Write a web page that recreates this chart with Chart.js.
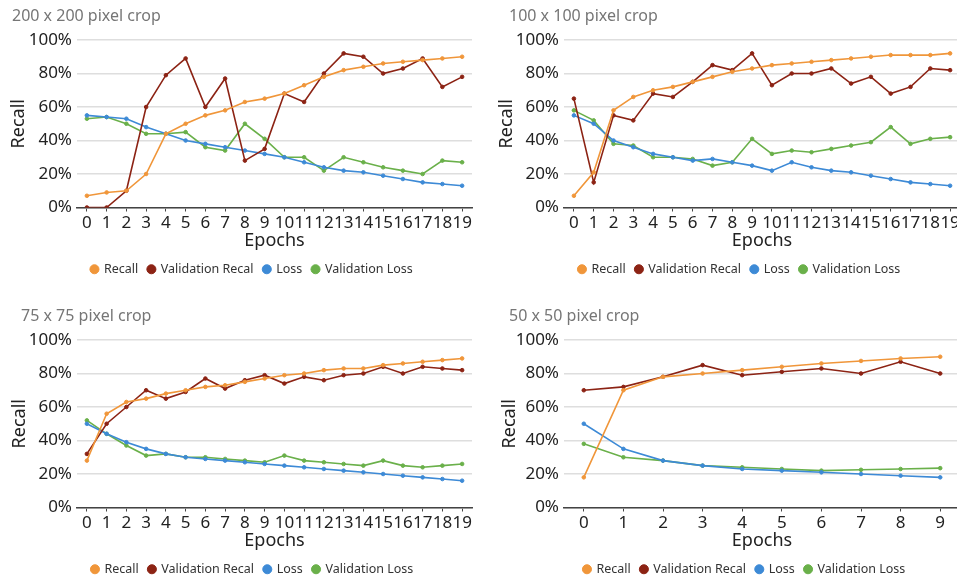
<!DOCTYPE html>
<html>
<head>
<meta charset="utf-8">
<script src="https://cdn.jsdelivr.net/npm/chart.js@4"></script>
<style>
  html, body { margin:0; padding:0; background:#fff; }
  #wrap { position:relative; width:957px; height:580px; overflow:hidden; background:#fff; }
  canvas { position:absolute; }
</style>
</head>
<body>
<div id="wrap">
  <canvas id="c1" width="478" height="300" style="left:0;top:0"></canvas>
  <canvas id="c2" width="490" height="300" style="left:478px;top:0"></canvas>
  <canvas id="c3" width="478" height="300" style="left:0;top:300px"></canvas>
  <canvas id="c4" width="490" height="300" style="left:478px;top:300px"></canvas>
</div>
<script>
// ---- Data ----
const epochs20 = ["0","1","2","3","4","5","6","7","8","9","10","11","12","13","14","15","16","17","18","19"];
const epochs10 = ["0","1","2","3","4","5","6","7","8","9"];
const seriesNames = ["Recall", "Validation Recal", "Loss", "Validation Loss"];
const yTicks = [0, 20, 40, 60, 80, 100];

const titles = ["200 x 200 pixel crop", "100 x 100 pixel crop", "75 x 75 pixel crop", "50 x 50 pixel crop"];

// 200 x 200
const recall200    = [7, 9, 10, 20, 44, 50, 55, 58, 63, 65, 68, 73, 78, 82, 84, 86, 87, 88, 89, 90];
const valRecall200 = [0, 0, 10, 60, 79, 89, 60, 77, 28, 35, 68, 63, 80, 92, 90, 80, 83, 89, 72, 78];
const loss200      = [55, 54, 53, 48, 44, 40, 38, 36, 34, 32, 30, 27, 24, 22, 21, 19, 17, 15, 14, 13];
const valLoss200   = [53, 54, 50, 44, 44, 45, 36, 34, 50, 41, 30, 30, 22, 30, 27, 24, 22, 20, 28, 27];

// 100 x 100
const recall100    = [7, 21, 58, 66, 70, 72, 75, 78, 81, 83, 85, 86, 87, 88, 89, 90, 91, 91, 91, 92];
const valRecall100 = [65, 15, 55, 52, 68, 66, 75, 85, 82, 92, 73, 80, 80, 83, 74, 78, 68, 72, 83, 82];
const loss100      = [55, 50, 40, 36, 32, 30, 28, 29, 27, 25, 22, 27, 24, 22, 21, 19, 17, 15, 14, 13];
const valLoss100   = [58, 52, 38, 37, 30, 30, 29, 25, 27, 41, 32, 34, 33, 35, 37, 39, 48, 38, 41, 42];

// 75 x 75
const recall75     = [28, 56, 63, 65, 68, 70, 72, 73, 75, 77, 79, 80, 82, 83, 83, 85, 86, 87, 88, 89];
const valRecall75  = [32, 50, 60, 70, 65, 69, 77, 71, 76, 79, 74, 78, 76, 79, 80, 84, 80, 84, 83, 82];
const loss75       = [50, 44, 39, 35, 32, 30, 29, 28, 27, 26, 25, 24, 23, 22, 21, 20, 19, 18, 17, 16];
const valLoss75    = [52, 44, 37, 31, 32, 30, 30, 29, 28, 27, 31, 28, 27, 26, 25, 28, 25, 24, 25, 26];

// 50 x 50
const recall50     = [18, 70, 78, 80, 82, 84, 86, 87.5, 89, 90];
const valRecall50  = [70, 72, 78, 85, 79, 81, 83, 80, 87, 80];
const loss50       = [50, 35, 28, 25, 23, 22, 21, 20, 19, 18];
const valLoss50    = [38, 30, 28, 25, 24, 23, 22, 22.5, 23, 23.5];

// ---- Styling ----
const colors = ["#F0963A", "#8C2314", "#3D8AD6", "#6AB04A"];
const fam = "'Noto Sans', 'Open Sans', sans-serif";
const tickFont = { family: fam, size: 17 };

// panel caption drawn on the canvas
const panelTitle = {
  id: 'panelTitle',
  afterDraw(chart, args, opts) {
    const ctx = chart.ctx;
    ctx.save();
    ctx.font = "16px " + fam;
    ctx.fillStyle = '#767676';
    ctx.textAlign = 'left';
    ctx.textBaseline = 'middle';
    ctx.fillText(opts.text, opts.x, 16);
    ctx.restore();
  }
};

function makeChart(id, title, labels, data, L) {
  const datasets = data.map((d, i) => ({
    label: seriesNames[i],
    data: d,
    borderColor: colors[i],
    backgroundColor: colors[i],
    pointBackgroundColor: colors[i],
    pointBorderColor: colors[i],
    borderWidth: 1.6,
    pointRadius: 1.8,
    pointBorderWidth: 1,
    tension: 0,
    fill: false
  }));
  return new Chart(document.getElementById(id), {
    type: 'line',
    data: { labels, datasets },
    plugins: [panelTitle],
    options: {
      responsive: false,
      animation: false,
      devicePixelRatio: 1,
      layout: { padding: { left: 0, right: L.padRight, top: 40, bottom: 14.5 } },
      plugins: {
        panelTitle: { text: title, x: L.titleX },
        title: { display: false },
        legend: {
          position: 'bottom',
          labels: {
            usePointStyle: true, pointStyle: 'circle', boxWidth: 6.4, boxHeight: 6.4,
            padding: 10, color: '#333',
            font: { family: fam, size: 12.5 }
          }
        },
        tooltip: { enabled: false }
      },
      scales: {
        x: {
          type: 'category',
          offset: true,
          afterFit: s => { s.height = 45.5; },
          grid: { drawOnChartArea: false, drawTicks: true, tickLength: 4, color: '#444', lineWidth: 1 },
          border: { display: true, color: '#444', width: 1.5 },
          ticks: { autoSkip: false, maxRotation: 0, minRotation: 0, padding: 1, color: '#222', font: tickFont },
          title: { display: true, text: 'Epochs', color: '#222', font: { family: fam, size: 18 }, padding: { top: 0, bottom: 1.7 } }
        },
        y: {
          min: 0, max: 100,
          afterFit: s => { s.width = L.yWidth; },
          afterBuildTicks: s => { s.ticks = yTicks.map(v => ({ value: v })); },
          grid: { drawTicks: false, color: '#dedede', lineWidth: 1.5 },
          border: { display: false },
          ticks: { padding: 5, color: '#222', font: tickFont, callback: v => v + '%' },
          title: { display: true, text: 'Recall', color: '#222', font: { family: fam, size: 18 }, padding: { top: L.yTitleX - 10.8, bottom: 0 } }
        },
        // empty spacer on the right, keeps the plot edge where the reference has it
        yR: {
          type: 'linear', position: 'right', display: true,
          afterFit: s => { s.width = L.rightGap; },
          grid: { display: false, drawOnChartArea: false, drawTicks: false },
          border: { display: false },
          ticks: { display: false }
        }
      }
    }
  });
}

makeChart('c1', titles[0], epochs20, [recall200, valRecall200, loss200, valLoss200], { titleX: 12, yWidth: 77, yTitleX: 19, padRight: -26, rightGap: 32 });
makeChart('c2', titles[1], epochs20, [recall100, valRecall100, loss100, valLoss100], { titleX: 31, yWidth: 86, yTitleX: 29, padRight: -33, rightGap: 41 });
makeChart('c3', titles[2], epochs20, [recall75, valRecall75, loss75, valLoss75], { titleX: 21, yWidth: 77, yTitleX: 19.7, padRight: -27, rightGap: 33 });
makeChart('c4', titles[3], epochs10, [recall50, valRecall50, loss50, valLoss50], { titleX: 31, yWidth: 86, yTitleX: 31.7, padRight: -43, rightGap: 51 });
</script>
</body>
</html>
